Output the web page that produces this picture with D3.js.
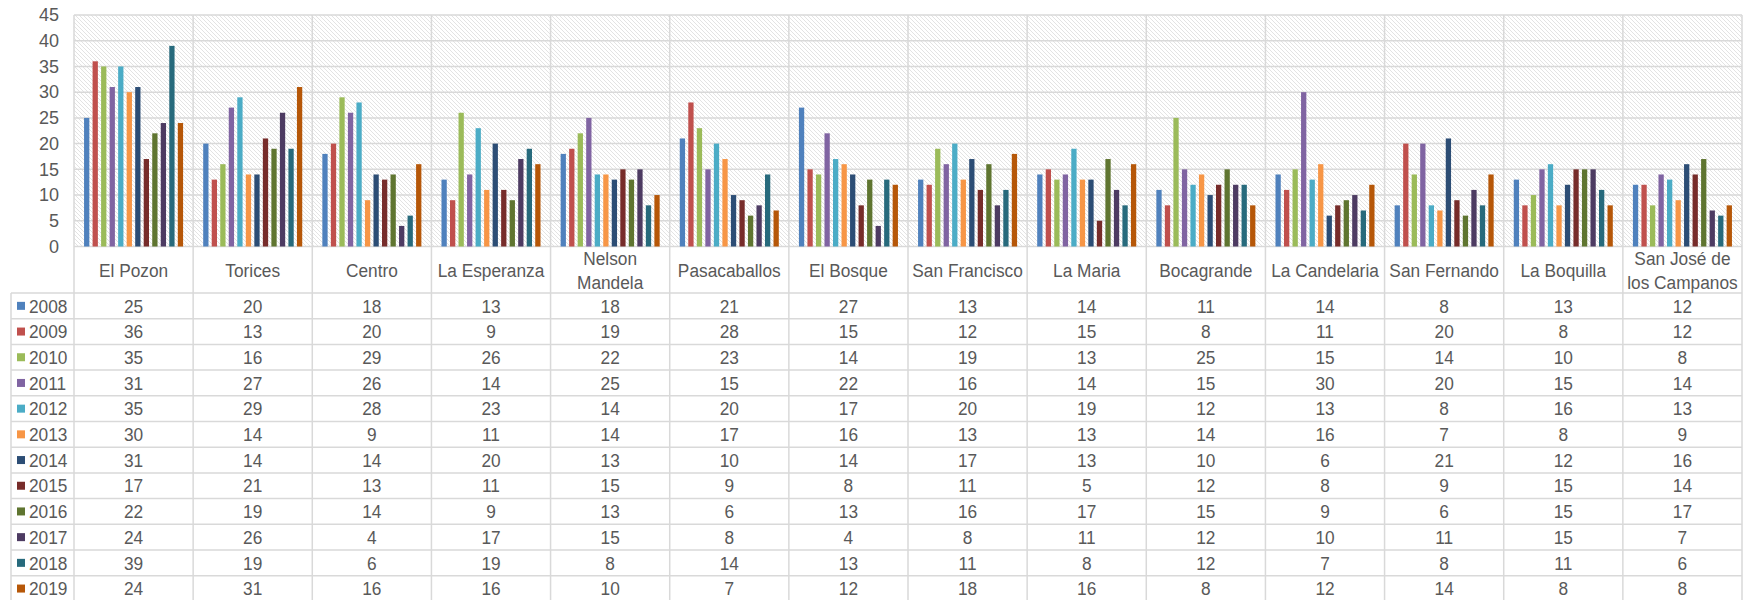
<!DOCTYPE html>
<html>
<head>
<meta charset="utf-8">
<script src="https://cdn.jsdelivr.net/npm/d3@7"></script>
<style>
  body { margin: 0; background: #fff; }
  text { font-family: "Liberation Sans", Arial, sans-serif; fill: #595959; }
</style>
</head>
<body>
<div id="chart"></div>
<script>
// barrios (columns of the data table)
const barrios = ["El Pozon", "Torices", "Centro", "La Esperanza", "Nelson Mandela", "Pasacaballos",
  "El Bosque", "San Francisco", "La Maria", "Bocagrande", "La Candelaria", "San Fernando",
  "La Boquilla", "San José de los Campanos"];

const years = ["2008", "2009", "2010", "2011", "2012", "2013", "2014", "2015", "2016", "2017", "2018", "2019"];

// one array per year, same order as barrios
const v2008 = [25, 20, 18, 13, 18, 21, 27, 13, 14, 11, 14, 8, 13, 12];
const v2009 = [36, 13, 20, 9, 19, 28, 15, 12, 15, 8, 11, 20, 8, 12];
const v2010 = [35, 16, 29, 26, 22, 23, 14, 19, 13, 25, 15, 14, 10, 8];
const v2011 = [31, 27, 26, 14, 25, 15, 22, 16, 14, 15, 30, 20, 15, 14];
const v2012 = [35, 29, 28, 23, 14, 20, 17, 20, 19, 12, 13, 8, 16, 13];
const v2013 = [30, 14, 9, 11, 14, 17, 16, 13, 13, 14, 16, 7, 8, 9];
const v2014 = [31, 14, 14, 20, 13, 10, 14, 17, 13, 10, 6, 21, 12, 16];
const v2015 = [17, 21, 13, 11, 15, 9, 8, 11, 5, 12, 8, 9, 15, 14];
const v2016 = [22, 19, 14, 9, 13, 6, 13, 16, 17, 15, 9, 6, 15, 17];
const v2017 = [24, 26, 4, 17, 15, 8, 4, 8, 11, 12, 10, 11, 15, 7];
const v2018 = [39, 19, 6, 19, 8, 14, 13, 11, 8, 12, 7, 8, 11, 6];
const v2019 = [24, 31, 16, 16, 10, 7, 12, 18, 16, 8, 12, 14, 8, 8];

const yTicks = [0, 5, 10, 15, 20, 25, 30, 35, 40, 45];

const colors = ["#4F81BD", "#C0504D", "#9BBB59", "#8064A2", "#4BACC6", "#F79646",
  "#2C4D75", "#772C2A", "#5F7530", "#4D3B62", "#276A7C", "#B65708"];

const series = [v2008, v2009, v2010, v2011, v2012, v2013, v2014, v2015, v2016, v2017, v2018, v2019]
  .map((vals, i) => ({ year: years[i], values: vals, color: colors[i] }));

const W = 1760, H = 600;
const plot = { left: 74, right: 1742, top: 15, bottom: 246.5 };
const table = { left: 11, headerBottom: 293, rowH: 25.7 };
const gridColor = "#d9d9d9";
const fs = "18.6px";   // table font size
const sx = 0.93;       // table text is slightly narrow

const svg = d3.select("#chart").append("svg")
  .attr("width", W)
  .attr("height", H);

// hatched plot background
const pat = svg.append("defs").append("pattern")
  .attr("id", "hatch")
  .attr("patternUnits", "userSpaceOnUse")
  .attr("width", 4)
  .attr("height", 4);
pat.append("rect").attr("width", 4).attr("height", 4).attr("fill", "#fff");
pat.append("path").attr("d", "M-1,-1L5,5M-1,3L1,5M3,-1L5,1")
  .attr("stroke", "#e3e3e3").attr("stroke-width", 1);

const x0 = d3.scaleBand().domain(barrios).range([plot.left, plot.right]);
const x1 = d3.scaleBand().domain(years).range([0, x0.bandwidth()])
  .paddingInner(0.38).paddingOuter(1.18);
const y = d3.scaleLinear().domain([0, 45]).range([plot.bottom, plot.top]);

svg.append("rect")
  .attr("x", plot.left).attr("y", plot.top)
  .attr("width", plot.right - plot.left).attr("height", plot.bottom - plot.top)
  .attr("fill", "url(#hatch)");

// horizontal gridlines
svg.append("g").selectAll("line").data(yTicks).join("line")
  .attr("x1", plot.left).attr("x2", plot.right)
  .attr("y1", d => y(d)).attr("y2", d => y(d))
  .attr("stroke", gridColor).attr("stroke-width", 1.5);

// bars
svg.append("g").selectAll("g").data(series).join("g")
  .attr("fill", d => d.color)
  .selectAll("rect")
  .data(d => d.values.map((v, j) => ({ barrio: barrios[j], year: d.year, value: v })))
  .join("rect")
  .attr("x", d => x0(d.barrio) + x1(d.year))
  .attr("y", d => y(d.value))
  .attr("width", x1.bandwidth())
  .attr("height", d => y(0) - y(d.value));

// y axis labels
const yAxis = svg.append("g")
  .attr("transform", `translate(${plot.left},0)`)
  .call(d3.axisLeft(y).tickValues(yTicks).tickSize(0).tickPadding(15));
yAxis.select(".domain").remove();
yAxis.selectAll("text")
  .style("font-family", "'Liberation Sans', Arial, sans-serif")
  .style("font-size", "18px")
  .attr("fill", "#595959");

// data table grid
const rowsBottom = table.headerBottom + years.length * table.rowH;
const tbl = svg.append("g").attr("stroke", gridColor).attr("stroke-width", 1.5);
// vertical lines at column boundaries
const colEdges = barrios.map(b => x0(b)).concat([plot.right]);
tbl.selectAll(".vcol").data(colEdges).join("line")
  .attr("x1", d => d).attr("x2", d => d)
  .attr("y1", plot.top).attr("y2", rowsBottom);
tbl.append("line")
  .attr("x1", table.left).attr("x2", table.left)
  .attr("y1", table.headerBottom).attr("y2", rowsBottom);
// horizontal row lines
const rowEdges = d3.range(years.length + 1).map(i => table.headerBottom + i * table.rowH);
tbl.selectAll(".hrow").data(rowEdges).join("line")
  .attr("x1", table.left).attr("x2", plot.right)
  .attr("y1", d => d).attr("y2", d => d);

// category headers, wrapped to two lines when too wide
const maxW = x0.bandwidth() - 4;
barrios.forEach(b => {
  const cx = x0(b) + x0.bandwidth() / 2;
  const g = svg.append("g").attr("transform", `translate(${cx},0) scale(${sx},1)`);
  const t = g.append("text").attr("x", 0).attr("y", 277)
    .attr("text-anchor", "middle").style("font-size", fs).text(b);
  if (t.node().getComputedTextLength() * sx > maxW) {
    const words = b.split(" ");
    let line1 = [], line2 = [];
    words.forEach(w => {
      t.text(line1.concat([w]).join(" "));
      if (line2.length === 0 && t.node().getComputedTextLength() * sx <= maxW) line1.push(w);
      else line2.push(w);
    });
    t.text(null);
    t.append("tspan").attr("x", 0).attr("y", 265).text(line1.join(" "));
    t.append("tspan").attr("x", 0).attr("y", 289).text(line2.join(" "));
  }
});

// table rows: legend key + values
const rows = svg.append("g").selectAll("g").data(series).join("g")
  .attr("transform", (d, i) => `translate(0,${table.headerBottom + i * table.rowH + table.rowH / 2})`);
rows.append("rect")
  .attr("x", 17).attr("y", -4).attr("width", 8).attr("height", 8)
  .attr("fill", d => d.color);
rows.append("text")
  .attr("transform", `translate(29,0) scale(${sx},1)`)
  .attr("dy", "0.36em")
  .style("font-size", fs)
  .text(d => d.year);
rows.selectAll(".val").data(d => d.values.map((v, j) => ({ barrio: barrios[j], value: v })))
  .join("text")
  .attr("class", "val")
  .attr("transform", d => `translate(${x0(d.barrio) + x0.bandwidth() / 2},0) scale(${sx},1)`)
  .attr("dy", "0.36em")
  .attr("text-anchor", "middle")
  .style("font-size", fs)
  .text(d => d.value);
</script>
</body>
</html>
